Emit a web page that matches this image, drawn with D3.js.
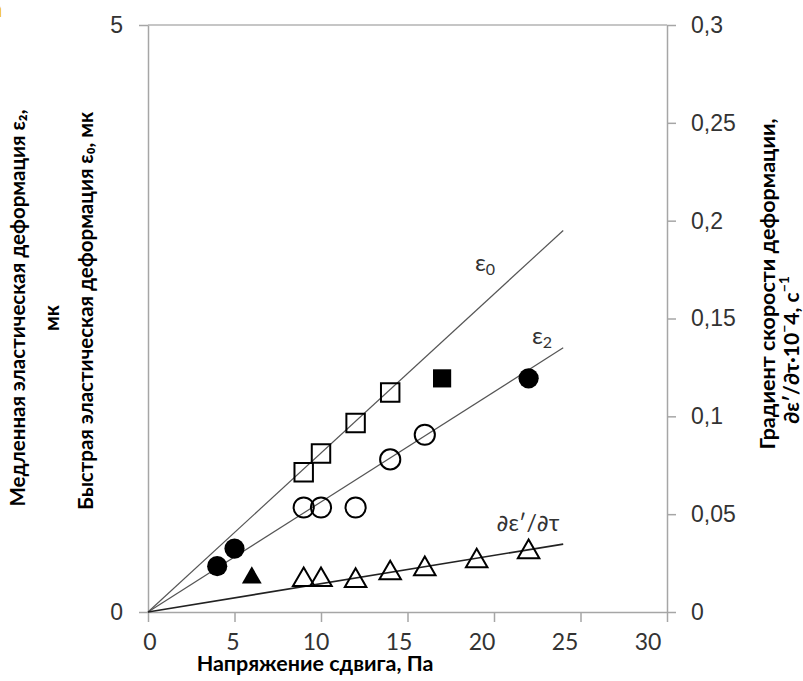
<!DOCTYPE html>
<html>
<head>
<meta charset="utf-8">
<script src="https://cdn.jsdelivr.net/npm/d3@7"></script>
<style>
  body { margin: 0; background: #fff; }
  svg { display: block; font-family: Lato, "Open Sans", "DejaVu Sans", sans-serif; }
  .pd { font-family: "DejaVu Sans", sans-serif; }
</style>
</head>
<body>
<div id="chart"></div>
<script>
// shear stress, Pa
var squareX = [9, 10, 12, 14];
var squareY = [1.19, 1.35, 1.61, 1.87];      // eps0, open squares
var circleX = [9, 10, 12, 14, 16];
var circleY = [0.89, 0.89, 0.89, 1.30, 1.51]; // eps2, open circles
var dotX = [4, 5, 22];
var dotY = [0.39, 0.54, 1.99];               // filled circles
var fSquareX = [17];
var fSquareY = [1.99];                       // filled square
var triX = [9, 10, 12, 14, 16, 19, 22];
var triY = [0.0164, 0.0164, 0.016, 0.0199, 0.022, 0.026, 0.0307]; // right axis
var fTriX = [6];
var fTriY = [0.0175];
// trend lines through origin
var trendX = [0, 24];
var eps0Trend = [0, 3.25];
var eps2Trend = [0, 2.25];
var gradTrend = [0, 0.0347];

var xTicks = [0, 5, 10, 15, 20, 25, 30];
var leftTicks = [0, 5];
var rightTicks = [0, 0.05, 0.1, 0.15, 0.2, 0.25, 0.3];

var width = 803, height = 681;
var svg = d3.select('#chart').append('svg')
  .attr('width', width).attr('height', height);

var x = d3.scaleLinear().domain([0, 30]).range([148, 667]);
var xLab = d3.scaleLinear().domain([0, 30]).range([150, 648]);
var yL = d3.scaleLinear().domain([0, 5]).range([612, 25]);
var yR = d3.scaleLinear().domain([0, 0.3]).range([612, 25]);
var axisCol = '#a6a6a6', textCol = '#333';

// gridline at top
svg.append('line')
  .attr('x1', x(0)).attr('x2', x(30))
  .attr('y1', yL(5)).attr('y2', yL(5))
  .attr('stroke', '#b3b3b3').attr('stroke-width', 1.5);

// x axis
var gx = svg.append('g').attr('transform', 'translate(0,' + yL(0) + ')')
  .call(d3.axisBottom(x).tickValues(xTicks).tickSize(10).tickSizeOuter(0).tickFormat(''));
gx.selectAll('path,line').attr('stroke', axisCol).attr('stroke-width', 1.5);
svg.selectAll('.xlab').data(xTicks).enter().append('text')
  .attr('x', function(d) { return xLab(d); })
  .attr('y', 650)
  .attr('text-anchor', 'middle')
  .attr('font-size', 23).attr('fill', textCol)
  .text(function(d) { return d; });

// left axis
var gl = svg.append('g').attr('transform', 'translate(' + x(0) + ',0)')
  .call(d3.axisLeft(yL).tickValues(leftTicks).tickSize(9).tickSizeOuter(0).tickPadding(16)
    .tickFormat(d3.format('d')));
gl.selectAll('path,line').attr('stroke', axisCol).attr('stroke-width', 1.5);
gl.selectAll('text').attr('font-size', 23).attr('fill', textCol).attr('font-family', null);

// right axis
var gr = svg.append('g').attr('transform', 'translate(' + x(30) + ',0)')
  .call(d3.axisRight(yR).tickValues(rightTicks).tickSize(9).tickSizeOuter(0).tickPadding(15)
    .tickFormat(function(d) { return String(d).replace('.', ','); }));
gr.selectAll('path,line').attr('stroke', axisCol).attr('stroke-width', 1.5);
gr.selectAll('text').attr('font-size', 23).attr('fill', textCol).attr('font-family', null);

// trend lines
function trend(vals, y, col, w) {
  svg.append('path')
    .datum(d3.zip(trendX, vals))
    .attr('d', d3.line().x(function(d) { return x(d[0]); }).y(function(d) { return y(d[1]); }))
    .attr('fill', 'none').attr('stroke', col).attr('stroke-width', w);
}
trend(eps0Trend, yL, '#555', 1.2);
trend(eps2Trend, yL, '#555', 1.2);
trend(gradTrend, yR, '#222', 1.6);

// markers
function marks(xs, ys, y, type, size, filled) {
  svg.append('g').selectAll('path')
    .data(d3.zip(xs, ys)).enter().append('path')
    .attr('transform', function(d) { return 'translate(' + x(d[0]) + ',' + y(d[1]) + ')'; })
    .attr('d', d3.symbol().type(type).size(size))
    .attr('fill', filled ? '#000' : 'none')
    .attr('stroke', '#000').attr('stroke-width', filled ? 0 : 2);
}
marks(squareX, squareY, yL, d3.symbolSquare, 340, false);
marks(fSquareX, fSquareY, yL, d3.symbolSquare, 330, true);
marks(circleX, circleY, yL, d3.symbolCircle, 320, false);
marks(dotX, dotY, yL, d3.symbolCircle, 320, true);
marks(triX, triY, yR, d3.symbolTriangle, 200, false);
marks(fTriX, fTriY, yR, d3.symbolTriangle, 170, true);

// series labels
function lab(tx, ty, parts) {
  var t = svg.append('text').attr('x', tx).attr('y', ty)
    .attr('font-size', 24).attr('fill', textCol).attr('text-anchor', 'middle');
  parts.forEach(function(p) {
    t.append('tspan').attr('font-size', p[1] ? 16 : 24).attr('dy', p[1] || null).text(p[0]);
  });
}
lab(485, 271, [['ε'], ['0', 4]]);
lab(542, 344, [['ε'], ['2', 4]]);
var gl2 = svg.append('text').attr('x', 528).attr('y', 531).attr('text-anchor', 'middle')
  .attr('font-size', 23).attr('fill', textCol);
gl2.append('tspan').attr('class', 'pd').text('∂');
gl2.append('tspan').text('ε′/');
gl2.append('tspan').attr('class', 'pd').text('∂');
gl2.append('tspan').text('τ');

// x title
svg.append('text').attr('x', 315).attr('y', 671).attr('text-anchor', 'middle')
  .attr('font-size', 21.5).attr('font-weight', 'bold').attr('fill', '#000')
  .text('Напряжение сдвига, Па');

// axis titles, rotated
function vtitle(cx, cy, txt, size) {
  return svg.append('text')
    .attr('transform', 'translate(' + cx + ',' + cy + ') rotate(-90)')
    .attr('text-anchor', 'middle').attr('dominant-baseline', 'central')
    .attr('font-size', size).attr('font-weight', 'bold').attr('fill', '#000')
    .text(txt);
}
vtitle(17, 308, 'Медленная эластическая деформация ε₂,', 20.5);
vtitle(51, 318, 'мк', 20.5);
vtitle(85, 311, 'Быстрая эластическая деформация ε₀, мк', 20.5);

vtitle(767, 284, 'Градиент скорости деформации,', 21.5);
var r2 = vtitle(790, 350, '', 21);
r2.append('tspan').text('∂ε′/∂τ·10');
r2.append('tspan').attr('dy', -7).attr('font-size', 14).text('−');
r2.append('tspan').attr('dy', 7).text('4, с');
r2.append('tspan').attr('dy', -7).attr('font-size', 14).text('−1');

// cropped panel letter in corner
svg.append('text').attr('x', -9).attr('y', 17)
  .attr('font-size', 22).attr('font-weight', 'bold').attr('fill', '#f2c200').text('а');
</script>
</body>
</html>
